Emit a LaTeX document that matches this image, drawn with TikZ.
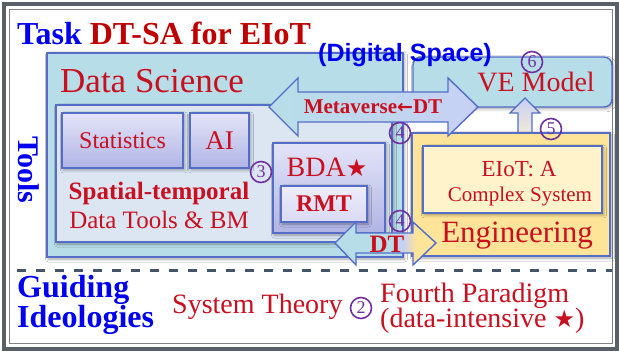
\documentclass[tikz,border=0pt]{standalone}
\usepackage{fontspec}
\setmainfont{Liberation Serif}
\newfontfamily\sansf{Liberation Sans}
\newfontfamily\djv{DejaVu Sans}
\usetikzlibrary{shadows.blur}
\definecolor{bluT}{RGB}{0,0,240}
\definecolor{redT}{RGB}{200,16,32}
\definecolor{darkred}{RGB}{192,0,0}
\definecolor{bord}{RGB}{84,110,200}
\definecolor{dsTeal}{RGB}{183,222,232}
\definecolor{lightbox}{RGB}{220,230,242}
\definecolor{lavT}{RGB}{228,228,248}
\definecolor{lavB}{RGB}{176,180,228}
\definecolor{engY}{RGB}{253,228,152}
\definecolor{eiotY}{RGB}{255,243,203}
\definecolor{purp}{RGB}{112,48,160}
\definecolor{frameD}{RGB}{90,96,104}
\definecolor{frameL}{RGB}{128,132,138}
\definecolor{dashC}{RGB}{68,84,106}
\definecolor{arrL}{RGB}{200,208,244}
\newcommand{\fsz}[1]{\fontsize{#1}{#1}\selectfont}
\pgfdeclarehorizontalshading{dtsh}{100bp}{color(0bp)=(dsTeal); color(54bp)=(dsTeal); color(59bp)=(arrL); color(65bp)=(engY); color(100bp)=(engY)}
\tikzset{
  box/.style={draw=bord, line width=1.4pt, inner sep=0pt,
    blur shadow={shadow xshift=1.5pt, shadow yshift=-2pt, shadow blur radius=3pt, shadow opacity=35}},
  lav/.style={box, top color=lavT, bottom color=lavB},
  num/.style={circle, draw=purp, line width=1.6pt, text=purp, minimum size=21pt, inner sep=0pt, font=\fsz{18}},
  rtext/.style={text=redT, inner sep=0pt},
  blockarrow/.style={draw=bord, line width=1.4pt, line join=miter},
}
\begin{document}
\begin{tikzpicture}[x=1pt,y=1pt]
\useasboundingbox (0,0) rectangle (619,-352);
\fill[white] (0,0) rectangle (619,-352);
% frame
\draw[frameD, line width=4pt] (4,-4) rectangle (617,-349);
\draw[frameL, line width=1.1pt] (9.5,-9.5) rectangle (612.5,-343.5);

% Data science
\node[box, fill=dsTeal, minimum width=356pt, minimum height=204pt] (ds) at (225,-155) {};
\node[box, fill=lightbox, minimum width=336pt, minimum height=137pt] (tools box) at (224,-173.5) {};
\node[lav, minimum width=121pt, minimum height=55pt, font=\fsz{24}, text=redT] (stat) at (122.5,-140.5) {Statistics};
\node[lav, minimum width=59pt, minimum height=55pt, font=\fsz{27}, text=redT] (ai) at (219.5,-140.5) {AI};
\node[lav, minimum width=112pt, minimum height=90pt] (bda) at (329,-188) {};
\node[box, top color=lavT!70!white, bottom color=lavT!80!lavB, minimum width=86pt, minimum height=36pt, font=\bfseries\fsz{24}, text=redT] (rmt) at (324,-204) {RMT};

% VE model
\node[box, fill=dsTeal, rounded corners=8pt, minimum width=199pt, minimum height=50pt] (ve) at (512.5,-82) {};

% up arrow (5)
\coordinate (upTip) at (525,-98);
\draw[blockarrow, top color=arrL, bottom color=eiotY]
  (upTip) -- (540,-113) -- (532,-113) -- (532,-146) -- (518,-146) -- (518,-113) -- (510,-113) -- cycle;

% Engineering
\node[box, fill=engY, minimum width=198pt, minimum height=123pt] (eng) at (511,-194.5) {};
\node[box, fill=eiotY, minimum width=179pt, minimum height=67pt] (eiot) at (512.5,-179.5) {};

% DT arrow
\draw[blockarrow, shading=dtsh]
  (335,-243) -- (356,-222) -- (356,-233) -- (413,-233) -- (413,-222) -- (436,-243)
  -- (413,-265) -- (413,-253) -- (356,-253) -- (356,-265) -- cycle;

% Metaverse arrow
\draw[blockarrow, left color=dsTeal, right color=arrL]
  (269,-107) -- (298,-78) -- (298,-92) -- (448,-92) -- (448,-78) -- (478,-107)
  -- (448,-136) -- (448,-122) -- (298,-122) -- (298,-136) -- cycle;

% texts
\node[anchor=base west, inner sep=0pt, font=\bfseries\fsz{32}] (title) at (17,-45)
  {\textcolor{bluT}{Task} \textcolor{darkred}{DT-SA for EIoT}};
\node[rtext, anchor=base west, font=\fsz{35}] (dslabel) at (60,-93) {Data Science};
\node[rtext, anchor=base, font=\bfseries\fsz{25}] (spt) at (159,-200) {Spatial-temporal};
\node[rtext, anchor=base, font=\fsz{25}] (dtb) at (159,-229) {Data Tools \& BM};
\node[rtext, anchor=base, font=\fsz{28}] (bdalabel) at (327,-177) {BDA{\djv\fsz{24}★}};
\node[rtext, font=\bfseries\fsz{21}] (meta) at (373,-107) {Metaverse{\djv\fsz{19}←}DT};
\node[rtext, anchor=base, font=\fsz{28}] (velabel) at (536,-92) {VE Model};
\node[rtext, anchor=base, font=\fsz{23}] (eiot1) at (519,-177) {EIoT: A};
\node[rtext, anchor=base, font=\fsz{21}] (eiot2) at (520,-202) {Complex System};
\node[rtext, anchor=base, font=\fsz{31}] (englabel) at (517,-243) {Engineering};
\node[rtext, font=\bfseries\fsz{25}] (dtlabel) at (387,-244) {DT};

\node[num] (n3) at (261,-172) {3};
\node[num] (n4a) at (400,-133) {4};
\node[num] (n4b) at (400,-221) {4};
\node[num] (n5) at (551,-129) {5};
\node[num] (n6) at (532,-62) {6};

\node[rotate=-90, text=bluT, font=\bfseries\fsz{30}, inner sep=0pt] (tools) at (29,-170) {Tools};

\node[anchor=base, inner sep=0pt, text=bluT, font=\sansf\bfseries\fsz{25}] (dig) at (405,-62) {(Digital Space)};

% dashed separator
\coordinate (dL) at (17,-271);
\coordinate (dR) at (612,-271);
\draw[dashC, line width=3pt, dash pattern=on 9pt off 10pt] (dL) -- (dR);

% guiding ideologies
\node[anchor=base west, inner sep=0pt, text=bluT, font=\bfseries\fsz{32}] (gi1) at (17,-298) {Guiding};
\node[anchor=base west, inner sep=0pt, text=bluT, font=\bfseries\fsz{32}] (gi2) at (17,-328) {Ideologies};
\node[rtext, anchor=base west, font=\fsz{28}] (sys) at (172,-314) {System Theory};
\node[num] (n2) at (361,-308) {2};
\node[rtext, anchor=base west, font=\fsz{28}] (fp1) at (380,-303) {Fourth Paradigm};
\node[rtext, anchor=base west, font=\fsz{28}] (fp2) at (380,-328) {(data-intensive {\djv\fsz{24}★})};
\end{tikzpicture}
\end{document}
